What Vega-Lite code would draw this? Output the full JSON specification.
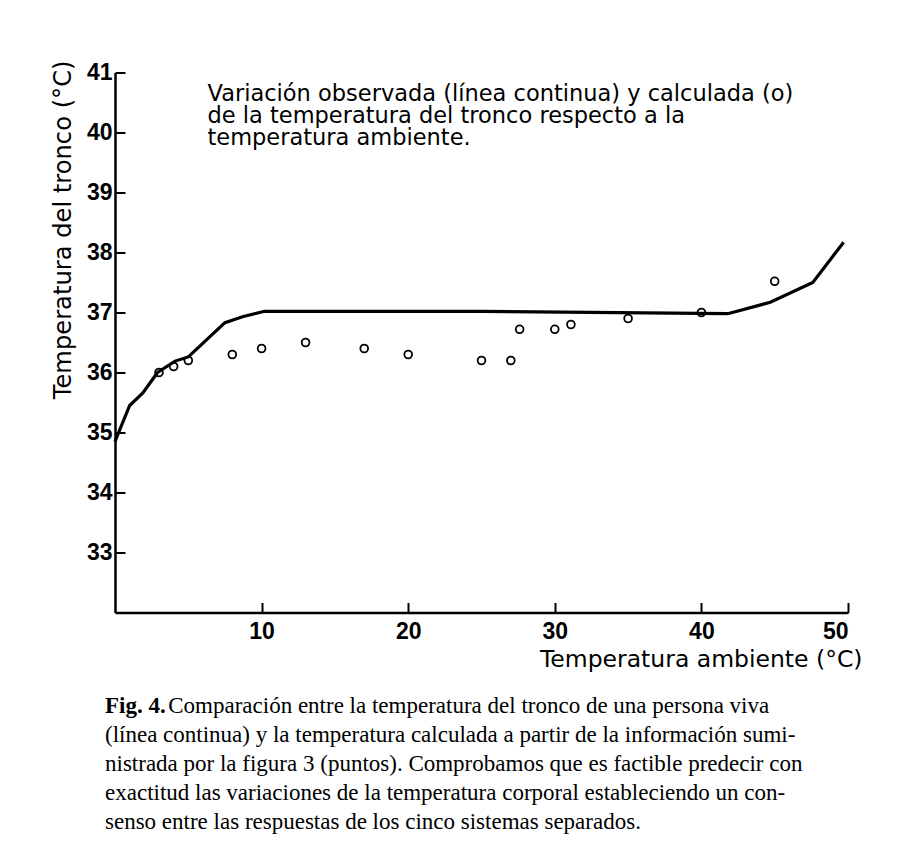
{
  "$schema": "https://vega.github.io/schema/vega-lite/v6.json",
  "width": 733,
  "height": 540,
  "autosize": {"type": "none"},
  "padding": {"left": 115, "top": 72.5, "right": 64, "bottom": 239.5},
  "background": "white",
  "config": {"view": {"stroke": null}},
  "title": {
    "text": "Fig. 4.",
    "subtitle": [
      "\u200b\u00a0\u00a0\u00a0\u00a0\u00a0\u00a0\u00a0\u00a0\u00a0\u00a0\u00a0Comparación entre la temperatura del tronco de una persona viva",
      "(línea continua) y la temperatura calculada a partir de la información sumi-",
      "nistrada por la figura 3 (puntos). Comprobamos que es factible predecir con",
      "exactitud las variaciones de la temperatura corporal estableciendo un con-",
      "senso entre las respuestas de los cinco sistemas separados."
    ],
    "orient": "bottom",
    "anchor": "start",
    "frame": "group",
    "dx": -10,
    "offset": 24,
    "font": "Liberation Serif",
    "fontSize": 23,
    "fontWeight": "bold",
    "color": "black",
    "subtitleFont": "Liberation Serif",
    "subtitleFontSize": 23,
    "subtitleFontWeight": "normal",
    "subtitleColor": "black",
    "subtitleLineHeight": 29,
    "subtitlePadding": -23
  },
  "layer": [
    {
      "data": {"values": [
        {"ta": 0, "tt": 34.85},
        {"ta": 1.0, "tt": 35.45},
        {"ta": 1.9, "tt": 35.66},
        {"ta": 2.9, "tt": 36.0},
        {"ta": 4.1, "tt": 36.19},
        {"ta": 5.0, "tt": 36.26},
        {"ta": 7.5, "tt": 36.83},
        {"ta": 8.7, "tt": 36.93},
        {"ta": 10.2, "tt": 37.02},
        {"ta": 25, "tt": 37.02},
        {"ta": 41.8, "tt": 36.98},
        {"ta": 44.7, "tt": 37.17},
        {"ta": 47.6, "tt": 37.5},
        {"ta": 49.7, "tt": 38.17}
      ]},
      "mark": {"type": "line", "color": "black", "strokeWidth": 3.2, "clip": false},
      "encoding": {
        "x": {
          "field": "ta", "type": "quantitative",
          "scale": {"domain": [0, 50], "nice": false, "zero": false},
          "axis": {
            "orient": "bottom",
            "values": [10, 20, 30, 40, 50],
            "grid": false,
            "domainColor": "black", "domainWidth": 2.5,
            "tickColor": "black", "tickWidth": 2, "tickSize": -10,
            "labelFont": "Liberation Sans", "labelFontSize": 23, "labelFontWeight": "bold",
            "labelColor": "black", "labelPadding": 18, "labelBaseline": "top",
            "title": "Temperatura ambiente (°C)",
            "titleFont": "DejaVu Sans", "titleFontSize": 23.5, "titleFontWeight": "normal",
            "titleColor": "black",
            "titleX": 747, "titleY": 54, "titleAlign": "right", "titleBaseline": "alphabetic", "titleAnchor": null
          }
        },
        "y": {
          "field": "tt", "type": "quantitative",
          "scale": {"domain": [32, 41], "nice": false, "zero": false},
          "axis": {
            "values": [33, 34, 35, 36, 37, 38, 39, 40, 41],
            "grid": false,
            "domainColor": "black", "domainWidth": 2.5,
            "tickColor": "black", "tickWidth": 2, "tickSize": -10,
            "labelFont": "Liberation Sans", "labelFontSize": 23, "labelFontWeight": "bold",
            "labelColor": "black", "labelPadding": 13,
            "title": "Temperatura del tronco (°C)",
            "titleFont": "DejaVu Sans", "titleFontSize": 24.2, "titleFontWeight": "normal",
            "titleColor": "black",
            "titleX": -45, "titleY": -12.5, "titleAngle": -90, "titleAlign": "right", "titleBaseline": "alphabetic", "titleAnchor": null
          }
        }
      }
    },
    {
      "data": {"values": [
        {"ta": 3, "tt": 36.0},
        {"ta": 4, "tt": 36.1},
        {"ta": 5, "tt": 36.2},
        {"ta": 8, "tt": 36.3},
        {"ta": 10, "tt": 36.4},
        {"ta": 13, "tt": 36.5},
        {"ta": 17, "tt": 36.4},
        {"ta": 20, "tt": 36.3},
        {"ta": 25, "tt": 36.2},
        {"ta": 27, "tt": 36.2},
        {"ta": 27.6, "tt": 36.72},
        {"ta": 30, "tt": 36.72},
        {"ta": 31.1, "tt": 36.8},
        {"ta": 35, "tt": 36.9},
        {"ta": 40, "tt": 37.0},
        {"ta": 45, "tt": 37.52}
      ]},
      "mark": {"type": "point", "shape": "circle", "filled": false, "color": "black", "size": 60, "strokeWidth": 1.8, "opacity": 1, "clip": false},
      "encoding": {
        "x": {
          "field": "ta", "type": "quantitative",
          "axis": {
            "orient": "top",
            "domain": false, "ticks": false, "labels": false, "grid": false,
            "title": [
              "Variación observada (línea continua) y calculada (o)",
              "de la temperatura del tronco respecto a la",
              "temperatura ambiente."
            ],
            "titleFont": "DejaVu Sans", "titleFontSize": 22.5, "titleFontWeight": "normal",
            "titleColor": "black", "titleLineHeight": 22,
            "titleX": 92, "titleY": 28, "titleAlign": "left", "titleBaseline": "alphabetic", "titleAnchor": null, "titleAngle": 0
          }
        },
        "y": {
          "field": "tt", "type": "quantitative",
          "axis": {
            "values": [33, 34, 35, 36, 37, 38, 39, 40, 41],
            "grid": false,
            "domainColor": "black", "domainWidth": 2.5,
            "tickColor": "black", "tickWidth": 2, "tickSize": -10,
            "labelFont": "Liberation Sans", "labelFontSize": 23, "labelFontWeight": "bold",
            "labelColor": "black", "labelPadding": 13,
            "title": "Temperatura del tronco (°C)",
            "titleFont": "DejaVu Sans", "titleFontSize": 24.2, "titleFontWeight": "normal",
            "titleColor": "black",
            "titleX": -45, "titleY": -12.5, "titleAngle": -90, "titleAlign": "right", "titleBaseline": "alphabetic", "titleAnchor": null
          }
        }
      }
    }
  ],
  "resolve": {"axis": {"x": "independent"}}
}
